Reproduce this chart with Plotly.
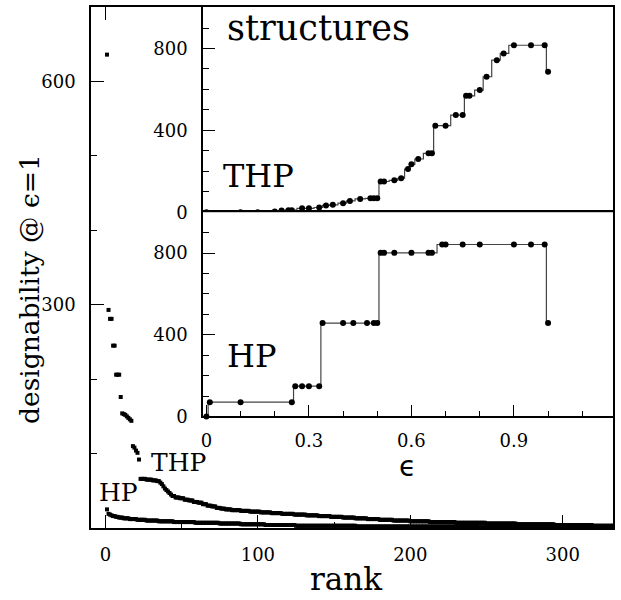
import plotly.graph_objects as go

# ---------------- data ----------------
# main panel: designability at eps=1 versus rank
THP_head = [636, 293, 281, 281, 245, 245, 206, 206, 206, 176, 154, 153, 152, 150,
            148, 146, 144, 110, 108, 104, 101, 92]
THP_levels = [66, 65, 64, 63, 61, 59, 56, 53, 51, 49, 47, 45, 43, 41, 40, 38, 37, 35,
              34, 32, 30, 29, 27, 26, 25, 24, 23, 22, 21, 20, 19, 18, 17, 16, 15, 14,
              13, 12, 11, 10, 9, 8, 7, 6, 5, 4, 3, 2]
THP_counts = [4, 4, 3, 2, 1, 1, 1, 1, 1, 1, 1, 1, 2, 3, 3, 3, 3, 3,
              3, 3, 3, 3, 3, 3, 4, 6, 6, 7, 7, 7, 8, 8, 8, 8, 8, 8,
              8, 8, 9, 11, 13, 17, 20, 20, 25, 25, 25, 15]

HP_head = [25, 19]
HP_levels = [18, 17, 16, 15, 14, 13, 12, 11, 10, 9, 8, 7, 6, 5, 4, 3, 2, 1]
HP_counts = [1, 1, 2, 2, 3, 4, 5, 6, 8, 10, 14, 16, 14, 16, 20, 40, 80, 120]

# inset: number of designable structures versus eps
THP_eps = [0, 0.1, 0.15, 0.2, 0.22, 0.24, 0.25, 0.28, 0.3, 0.33, 0.35, 0.37, 0.4, 0.42,
           0.45, 0.48, 0.49, 0.5, 0.51, 0.52, 0.55, 0.57, 0.59, 0.6, 0.62, 0.65, 0.66,
           0.67, 0.7, 0.73, 0.75, 0.76, 0.77, 0.8, 0.82, 0.85, 0.87, 0.9, 0.95, 0.99, 1.0]
THP_struct = [0, 0, 0, 3, 8, 10, 10, 19, 19, 23, 33, 36, 44, 55,
              65, 68, 68, 68, 150, 150, 156, 166, 211, 234, 260, 288, 288,
              423, 423, 475, 475, 569, 569, 597, 662, 743, 776, 816, 816, 816, 686]

HP_eps = [0, 0.01, 0.1, 0.25, 0.26, 0.28, 0.3, 0.33, 0.34, 0.4, 0.43, 0.47, 0.49, 0.5,
          0.51, 0.52, 0.55, 0.6, 0.65, 0.66, 0.69, 0.7, 0.75, 0.8, 0.9, 0.95, 0.99, 1.0]
HP_struct = [0, 70, 70, 70, 148, 148, 148, 148, 457, 457, 457, 457, 457, 457,
             801, 801, 801, 801, 801, 801, 842, 842, 842, 842, 842, 842, 842, 457]

main_xticks = [0, 100, 200, 300]
main_xminor = [50, 150, 250]
main_yticks = [300, 600]
main_yminor = [100, 200, 400, 500]
inset_yticks = [0, 400, 800]
inset_yminor = [100, 200, 300, 500, 600, 700, 900]
inset_xticks = [0, 0.3, 0.6, 0.9]
inset_xticktext = ["0", "0.3", "0.6", "0.9"]
inset_xminor = [0.1, 0.2, 0.4, 0.5, 0.7, 0.8, 1.0, 1.1]


def expand(head, levels, counts):
    vals = list(head)
    for v, c in zip(levels, counts):
        vals.extend([v] * c)
    return vals


thp = expand(THP_head, THP_levels, THP_counts)
hp = expand(HP_head, HP_levels, HP_counts)

# ---------------- layout geometry ----------------
W, H = 621, 600
ML, MR, MT, MB = 91, 8, 5, 72
PW, PH = W - ML - MR, H - MT - MB


def px(xp):
    return (xp - ML) / PW


def py(yp):
    return (H - MB - yp) / PH


SERIF = "DejaVu Serif"
tickfont = dict(family=SERIF, size=18, color="black")

fig = go.Figure()

fig.add_trace(go.Scatter(x=list(range(1, len(thp) + 1)), y=thp, mode="markers",
                         marker=dict(symbol="square", size=4, color="black"),
                         xaxis="x", yaxis="y", showlegend=False))
fig.add_trace(go.Scatter(x=list(range(1, len(hp) + 1)), y=hp, mode="markers",
                         marker=dict(symbol="square", size=4, color="black"),
                         xaxis="x", yaxis="y", showlegend=False))
# carrier for the top tick axis
fig.add_trace(go.Scatter(x=[], y=[], xaxis="x4", yaxis="y", showlegend=False))

inset_line = dict(color="#444", width=1.2, shape="hvh")
inset_marker = dict(symbol="circle", size=6, color="black")
fig.add_trace(go.Scatter(x=THP_eps, y=THP_struct, mode="lines+markers",
                         line=inset_line, marker=inset_marker, cliponaxis=False,
                         xaxis="x2", yaxis="y2", showlegend=False))
fig.add_trace(go.Scatter(x=HP_eps, y=HP_struct, mode="lines+markers",
                         line=inset_line, marker=inset_marker, cliponaxis=False,
                         xaxis="x3", yaxis="y3", showlegend=False))

axline = dict(showline=True, linecolor="black", linewidth=1.5, showgrid=False,
              zeroline=False, ticks="inside", tickcolor="black", tickwidth=1.2)

xl = px(203)
fig.update_layout(
    width=W, height=H,
    margin=dict(l=ML, r=MR, t=MT, b=MB),
    paper_bgcolor="white", plot_bgcolor="white",
    xaxis=dict(**axline, domain=[0, 1], anchor="y", range=[-9.5, 333], mirror=True,
               tickvals=main_xticks, ticklen=13, tickfont=tickfont,
               ticklabelstandoff=10,
               minor=dict(tickvals=main_xminor, ticklen=6, ticks="inside",
                          tickcolor="black", tickwidth=1.2)),
    yaxis=dict(**axline, domain=[0, 1], anchor="x", range=[0, 700], mirror=True,
               tickvals=main_yticks, ticklen=13, tickfont=tickfont,
               ticklabelstandoff=10,
               minor=dict(tickvals=main_yminor, ticklen=6, ticks="inside",
                          tickcolor="black", tickwidth=1.2)),
    xaxis4=dict(overlaying="x", side="top", anchor="y", range=[-9.5, 333],
                showline=False, showgrid=False, zeroline=False, ticks="inside",
                tickvals=[0], ticklen=13, tickcolor="black", tickwidth=1.2,
                showticklabels=False),
    xaxis2=dict(**{k: v for k, v in axline.items() if k != "ticks"}, ticks="",
                domain=[xl, 1], anchor="y2", range=[-0.01, 1.19], mirror=True,
                showticklabels=False),
    yaxis2=dict(**axline, domain=[py(211), 1], anchor="x2", range=[0, 1003],
                mirror=True, tickvals=inset_yticks, ticklen=12, tickfont=tickfont,
                ticklabelstandoff=10,
                minor=dict(tickvals=inset_yminor, ticklen=6, ticks="inside",
                           tickcolor="black", tickwidth=1.2)),
    xaxis3=dict(**axline, domain=[xl, 1], anchor="y3", range=[-0.01, 1.19], mirror=True,
                tickvals=inset_xticks, ticktext=inset_xticktext, ticklen=12,
                tickfont=tickfont, ticklabelstandoff=7,
                minor=dict(tickvals=inset_xminor, ticklen=6, ticks="inside",
                           tickcolor="black", tickwidth=1.2)),
    yaxis3=dict(**axline, domain=[py(416), py(211)], anchor="x3", range=[0, 1000],
                mirror=True, tickvals=inset_yticks, ticklen=12, tickfont=tickfont,
                ticklabelstandoff=10,
                minor=dict(tickvals=inset_yminor, ticklen=6, ticks="inside",
                           tickcolor="black", tickwidth=1.2)),
)


def label(text, xp, yp, size, xanchor="left", yanchor="middle", angle=0,
          family=SERIF):
    fig.add_annotation(text=text, x=px(xp), y=py(yp), xref="paper", yref="paper",
                       xanchor=xanchor, yanchor=yanchor, showarrow=False,
                       textangle=angle,
                       font=dict(family=family, size=size, color="black"))


label("structures", 225, 26, 35)
label("THP", 221, 175, 32)
label("HP", 225, 355, 32)
label("THP", 149, 462, 25)
label("HP", 97, 492, 25)
label("ϵ", 407, 466, 28, xanchor="center", family="DejaVu Sans")
label("rank", 346, 599, 31, xanchor="center", yanchor="bottom")
label("designability @ ϵ=1", 30, 288, 26.5, xanchor="center", angle=-90)

fig.write_html("out.html", config={"displayModeBar": False},
               post_script="document.body.style.margin='0';document.body.style.padding='0';")
